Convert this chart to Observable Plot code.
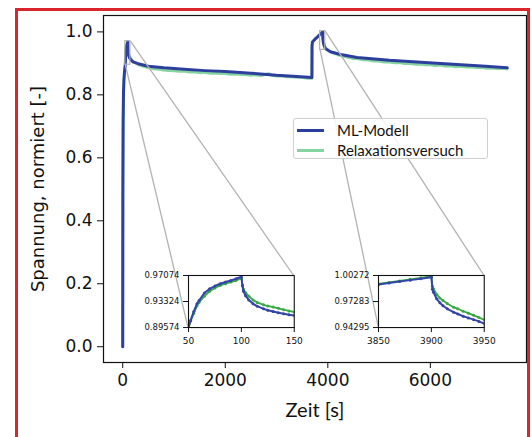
<!DOCTYPE html>
<html><head><meta charset="utf-8">
<script src="https://cdn.jsdelivr.net/npm/d3@7"></script>
<script src="https://cdn.jsdelivr.net/npm/@observablehq/plot@0.6"></script>
<style>
html,body{margin:0;padding:0;background:#fff;}
#wrap{position:relative;width:532px;height:437px;overflow:hidden;background:#fff;}
#wrap svg{position:absolute;}
.legend{position:absolute;left:293px;top:118px;width:195px;height:41px;box-sizing:border-box;border:1px solid #cfcfcf;border-radius:3px;background:rgba(255,255,255,0.85);font-family:Lato,sans-serif;font-size:15px;color:#111;}
.legend .row{position:absolute;left:3px;height:20px;display:flex;align-items:center;}
.legend .sw{width:27px;height:3px;margin-right:13px;}
.redbox{position:absolute;left:15px;top:8px;width:515px;height:440px;box-sizing:border-box;border:3px solid #d9262c;pointer-events:none;}
</style></head><body><div id="wrap"></div>
<script>
// ---- data ----
const zeitML = [0,3,8,15,25,35,45,
  50,52,55,58,60,65,70,75,80,85,90,95,100,101,102,104,107,111,115,121,125,130,135,140,145,150,
  200,300,500,800,1200,1600,2000,2500,3000,3400,3690,3692,3700,3750,3800,
  3850,3860,3870,3880,3890,3900,3901,3902,3905,3908,3911,3915,3921,3925,3930,3935,3940,3945,3950,
  4050,4250,4570,5200,6200,7000,7500];
const spannungML = [0,0.50,0.72,0.81,0.852,0.874,0.889,
  0.8962,0.906,0.919,0.930,0.9347,0.9455,0.9515,0.9556,0.9588,0.9614,0.9636,0.9660,0.9690,0.9560,0.9480,0.9415,0.9355,0.9300,0.9265,0.9227,0.9207,0.9188,0.9170,0.9155,0.9142,0.9130,
  0.905,0.899,0.891,0.886,0.881,0.877,0.874,0.869,0.862,0.858,0.855,0.955,0.968,0.977,0.9845,
  0.9924,0.9941,0.9958,0.9974,0.9991,1.0008,0.9870,0.9835,0.9760,0.9715,0.9680,0.9645,0.9606,0.9585,0.9560,0.9540,0.9520,0.9500,0.9475,
  0.937,0.928,0.919,0.910,0.900,0.892,0.886];
const zeitVersuch = [0,3,8,15,25,35,45,
  50,52,55,58,60,65,70,75,80,85,90,95,100,101,102,104,107,111,115,121,125,130,135,140,145,150,
  200,300,400,500,600,700,800,900,1000,1100,1200,1300,1400,1500,1600,1700,1800,1900,2000,2100,2200,2300,2400,2500,2600,2700,2800,2850,2900,3000,3100,3200,3300,3400,3500,3600,3690,
  3692,3700,3750,3800,
  3850,3860,3870,3880,3890,3900,3901,3902,3905,3908,3911,3915,3921,3925,3930,3935,3940,3945,3950,
  4000,4100,4200,4300,4400,4500,4600,4700,4800,4900,5000,5100,5200,5300,5400,5500,5600,5700,5800,5900,6000,6100,6200,6300,6400,6500,6600,6700,6800,6900,7000,7100,7200,7300,7400,7500];
const spannungVersuch = [0,0.48,0.70,0.80,0.848,0.870,0.886,
  0.8950,0.905,0.916,0.927,0.932,0.941,0.948,0.9528,0.9564,0.9590,0.9612,0.9635,0.9668,0.9570,0.9510,0.9460,0.9410,0.9355,0.9320,0.9285,0.9268,0.9252,0.9235,0.9215,0.9197,0.9180,
  0.906,0.896,0.890,0.886,0.882,0.881,0.878,0.877,0.876,0.874,0.875,0.872,0.872,0.870,0.871,0.868,0.869,0.867,0.867,0.865,0.866,0.864,0.864,0.862,0.863,0.861,0.866,0.868,0.862,0.859,0.860,0.857,0.857,0.855,0.855,0.852,0.852,
  0.955,0.968,0.977,0.985,
  0.9930,0.9947,0.9965,0.9983,1.0000,1.0020,0.9905,0.9875,0.9810,0.9770,0.9740,0.9705,0.9663,0.9645,0.9617,0.9595,0.9570,0.9545,0.9518,
  0.942,0.933,0.927,0.922,0.919,0.915,0.914,0.911,0.910,0.907,0.907,0.904,0.904,0.901,0.902,0.899,0.899,0.897,0.897,0.895,0.895,0.893,0.894,0.891,0.892,0.889,0.890,0.888,0.888,0.886,0.887,0.884,0.885,0.883,0.884,0.882];
const seriesNames = ["ML-Modell", "Relaxationsversuch"];
const xTicks = [0, 2000, 4000, 6000];
const yTicks = [0, 0.2, 0.4, 0.6, 0.8, 1.0];
const inset1XTicks = [50, 100, 150];
const inset1YTicks = [0.89574, 0.93324, 0.97074];
const inset2XTicks = [3850, 3900, 3950];
const inset2YTicks = [0.94295, 0.97283, 1.00272];
const xLabel = "Zeit [s]";
const yLabel = "Spannung, normiert [-]";

// ---- build ----
const ml = zeitML.map((t, i) => ({t, v: spannungML[i]}));
const versuch = zeitVersuch.map((t, i) => ({t, v: spannungVersuch[i]}));
const blueM = "#2d3f9c", greenM = "#86d5a0", blueI = "#3345a6", greenI = "#38a843", grey = "#b3b3b3";
const W = 532, H = 437, mL = 103, mR = 6, mT = 15, mB = 75;
const xDomain = [-375, 7875], yDomain = [-0.0501, 1.0521];
const pw = W - mL - mR, ph = H - mT - mB;
const insets = [
  {frac: [0.2, 0.1, 0.25, 0.15], xt: inset1XTicks, yt: inset1YTicks},
  {frac: [0.65, 0.1, 0.25, 0.15], xt: inset2XTicks, yt: inset2YTicks}
];
const lerp = (dom, f) => dom[0] + f * (dom[1] - dom[0]);
const rects = insets.map(c => ({x1: c.xt[0], x2: c.xt[2], y1: c.yt[0], y2: c.yt[2]}));
const links = [];
insets.forEach(c => {
  const [fx, fy, fw, fh] = c.frac;
  links.push({x1: c.xt[2], y1: c.yt[2], x2: lerp(xDomain, fx + fw), y2: lerp(yDomain, fy + fh)});
  links.push({x1: c.xt[0], y1: c.yt[0], x2: lerp(xDomain, fx), y2: lerp(yDomain, fy)});
});

const wrap = document.getElementById("wrap");
const main = Plot.plot({
  width: W, height: H, marginLeft: mL, marginRight: mR, marginTop: mT, marginBottom: mB,
  x: {domain: xDomain}, y: {domain: yDomain},
  style: {background: "white", fontFamily: "DejaVu Sans", color: "#111"},
  marks: [
    Plot.line(versuch, {x: "t", y: "v", stroke: greenM, strokeWidth: 2.6}),
    Plot.line(ml, {x: "t", y: "v", stroke: blueM, strokeWidth: 3}),
    Plot.rect(rects, {x1: "x1", x2: "x2", y1: "y1", y2: "y2", stroke: grey, strokeWidth: 1.2, fill: "none"}),
    Plot.link(links, {x1: "x1", y1: "y1", x2: "x2", y2: "y2", stroke: grey, strokeWidth: 1.3}),
    Plot.frame({stroke: "#111", strokeWidth: 1.2}),
    Plot.axisX(xTicks, {tickSize: 6, tickPadding: 5, fontSize: 17, label: null, tickFormat: d => String(d)}),
    Plot.axisY(yTicks, {tickSize: 6, tickPadding: 5, fontSize: 17, label: null, tickFormat: d => d.toFixed(1)}),
    Plot.text([yLabel], {frameAnchor: "left", dx: -65, rotate: -90, textAnchor: "middle", lineAnchor: "middle", fontSize: 18, fontFamily: "DejaVu Sans", fill: "#111"}),
    Plot.text([xLabel], {frameAnchor: "bottom", dy: 48, textAnchor: "middle", lineAnchor: "middle", fontSize: 20, fontFamily: "Lato", fill: "#111"})
  ]
});
main.style.left = "0px"; main.style.top = "0px";
wrap.appendChild(main);

insets.forEach(c => {
  const [fx, fy, fw, fh] = c.frac;
  const left = mL + fx * pw, width = fw * pw;
  const top = mT + (1 - fy - fh) * ph, height = fh * ph;
  const iL = 55, iR = 10, iT = 6, iB = 24;
  const inX = d => d.t >= c.xt[0] && d.t <= c.xt[2];
  const svg = Plot.plot({
    width: width + iL + iR, height: height + iT + iB,
    marginLeft: iL, marginRight: iR, marginTop: iT, marginBottom: iB,
    x: {domain: [c.xt[0], c.xt[2]]}, y: {domain: [c.yt[0], c.yt[2]]},
    style: {background: "transparent", fontFamily: "DejaVu Sans", color: "#111", overflow: "visible"},
    marks: [
      Plot.frame({fill: "white"}),
      Plot.line(versuch, {x: "t", y: "v", stroke: greenI, strokeWidth: 1.8, clip: true}),
      Plot.dot(versuch.filter(inX), {x: "t", y: "v", r: 1.5, fill: greenI, clip: true}),
      Plot.line(ml, {x: "t", y: "v", stroke: blueI, strokeWidth: 2, clip: true}),
      Plot.dot(ml.filter(inX), {x: "t", y: "v", r: 1.5, fill: blueI, clip: true}),
      Plot.frame({stroke: "#111", strokeWidth: 1.1}),
      Plot.axisX(c.xt, {tickSize: 5, tickPadding: 5, fontSize: 9, label: null, tickFormat: d => String(d)}),
      Plot.axisY(c.yt, {tickSize: 5, tickPadding: 4, fontSize: 8.5, label: null, tickFormat: d => d.toFixed(5)})
    ]
  });
  svg.style.left = (left - iL) + "px";
  svg.style.top = (top - iT) + "px";
  wrap.appendChild(svg);
});

// legend
const leg = document.createElement("div");
leg.className = "legend";
[[seriesNames[0], blueM], [seriesNames[1], greenM]].forEach(([name, col], i) => {
  const row = document.createElement("div");
  row.className = "row";
  row.style.top = (i === 0 ? 1 : 21) + "px";
  const sw = document.createElement("span");
  sw.className = "sw"; sw.style.background = col;
  const tx = document.createElement("span");
  tx.textContent = name;
  row.appendChild(sw); row.appendChild(tx);
  leg.appendChild(row);
});
wrap.appendChild(leg);
const rb = document.createElement("div");
rb.className = "redbox";
wrap.appendChild(rb);
</script>
</body></html>
